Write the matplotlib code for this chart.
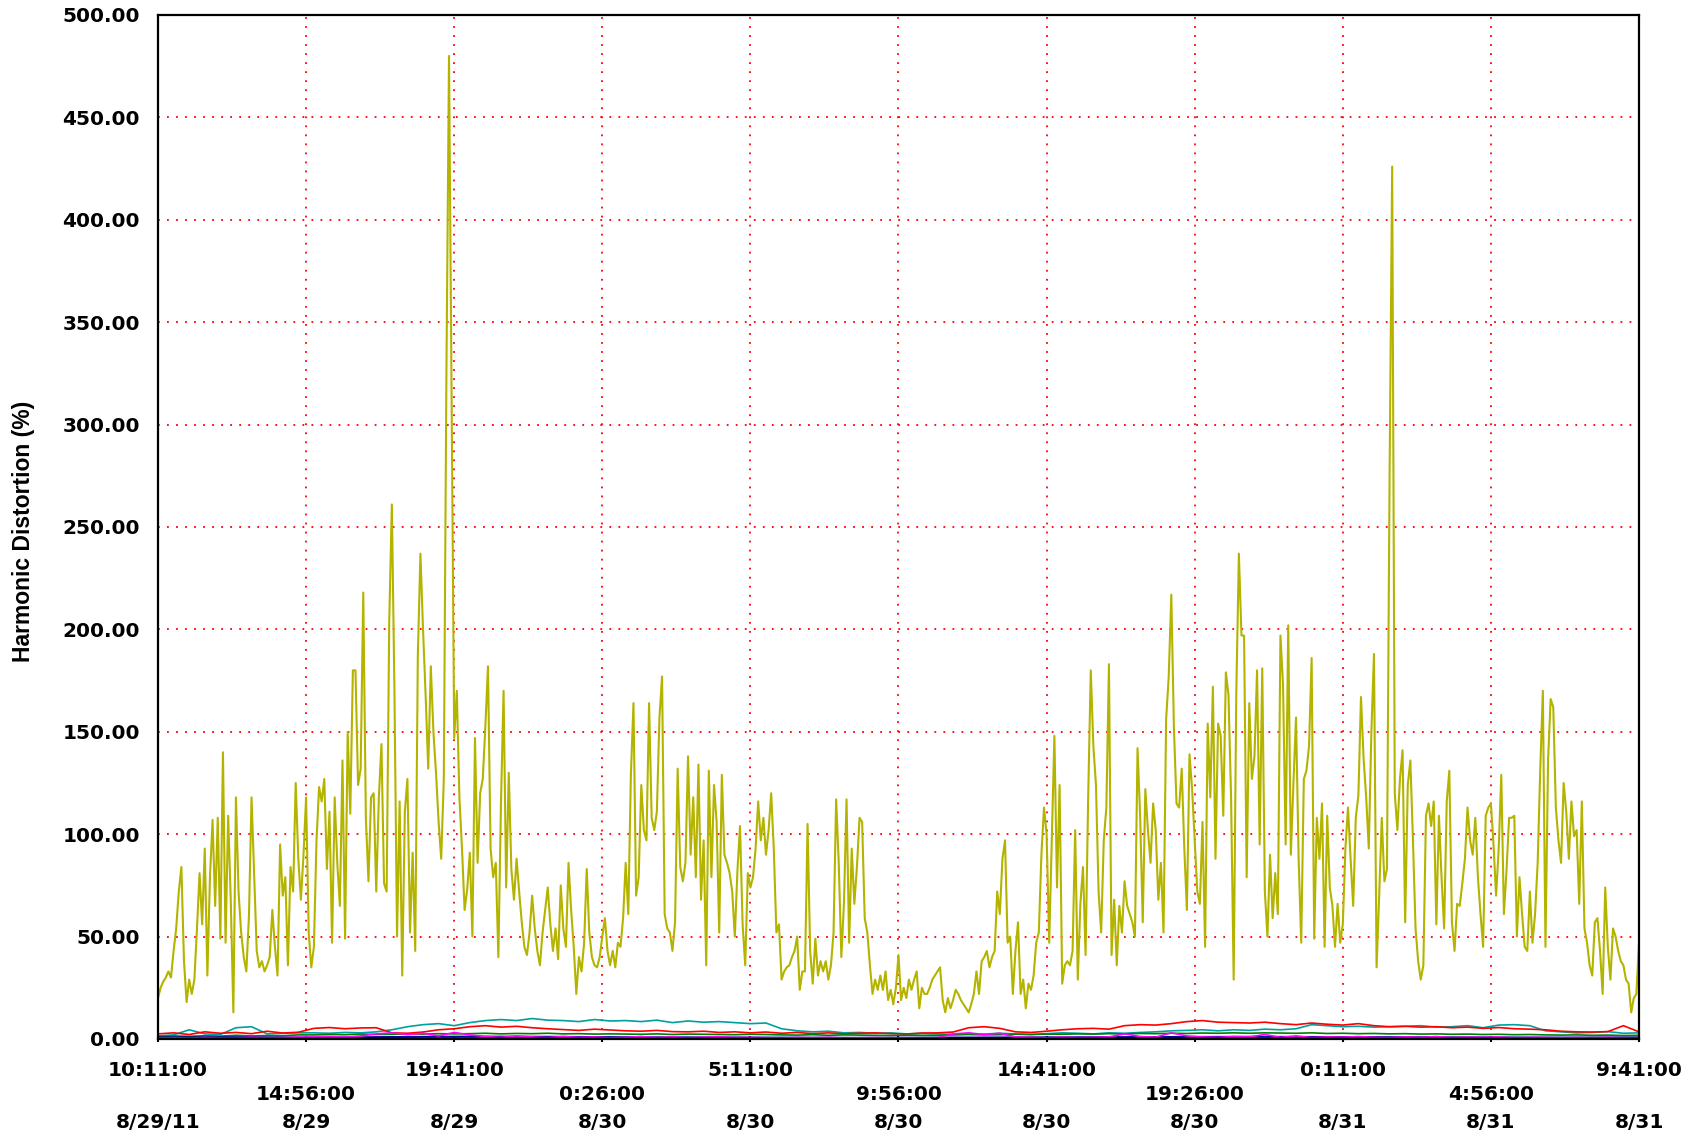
import numpy as np
import matplotlib
matplotlib.use("Agg")
import matplotlib.pyplot as plt

# minutes after 8/29/11 10:11:00, yellow channel sampled every 5 minutes
step_thd = 5
thd_seg1 = [20, 25, 28, 30, 33, 30, 43, 54, 72, 84,
            38, 18, 29, 22, 29, 54, 81, 56, 93, 31,
            79, 107, 65, 108, 49, 140, 47, 109, 68, 13,
            118, 72, 52, 40, 33, 60, 118, 81, 43, 35,
            38, 33, 36, 40, 63, 45, 31, 95, 70, 79,
            36, 84, 72, 125, 88, 68, 90, 118, 52, 35,
            45, 97, 123, 116, 127, 83, 111, 47, 118, 86,
            65, 136, 49, 150, 110, 180]
thd_seg2 = [180, 124, 132, 218, 108, 77, 118, 120, 72, 118,
            144, 76, 72, 204, 261, 170, 50, 116, 31, 111,
            127, 52, 91, 43, 187, 237, 200, 168, 132, 182,
            150, 130, 106, 88, 127, 324, 480, 312, 147, 170,
            118, 93, 63, 73, 91, 50, 147, 86, 120, 127,
            153, 182, 93, 79, 86, 40, 115, 170, 74, 130,
            83, 68, 88, 72, 57, 45, 41, 52, 70, 54,
            43, 36, 52, 63]
thd_seg3 = [74, 56, 43, 54, 39, 75, 54, 45, 86, 63,
            45, 22, 40, 33, 47, 83, 52, 40, 36, 35,
            40, 50, 59, 43, 36, 43, 35, 47, 45, 59,
            86, 61, 129, 164, 70, 79, 124, 102, 97, 164,
            108, 102, 111, 157, 177, 61, 54, 52, 43, 57,
            132, 84, 77, 86, 138, 90, 118, 79, 134, 68,
            97, 36, 131, 79, 124, 106, 52, 129, 90, 86,
            81, 72, 50]
thd_seg4 = [82, 104, 56, 36, 81, 74, 79, 93, 116, 97,
            108, 90, 102, 120, 93, 52, 56, 29, 33, 35,
            36, 40, 43, 50, 24, 33, 33, 105, 43, 27,
            49, 31, 38, 33, 38, 29, 36, 52, 117, 86,
            40, 66, 117, 47, 93, 66, 84, 108, 106, 59,
            52, 36, 22, 29, 24, 31, 24, 33, 19, 24,
            17, 25, 41, 19, 25, 20, 29, 24, 29, 33,
            15, 25, 22]
thd_seg5 = [22, 25, 29, 31, 33, 35, 19, 13, 20, 15,
            19, 24, 22, 19, 17, 15, 13, 17, 22, 33,
            22, 38, 40, 43, 35, 40, 43, 72, 61, 88,
            97, 47, 50, 22, 43, 57, 22, 29, 15, 27,
            24, 31, 47, 52, 90, 113, 100, 47, 97, 148,
            74, 124, 27, 36, 38, 36, 43, 102, 29, 66,
            84, 41, 118, 180, 143, 124, 72, 52, 97, 113,
            183, 41, 68]
thd_seg6 = [36, 65, 52, 77, 65, 61, 57, 50, 142, 109,
            57, 122, 102, 86, 115, 102, 68, 86, 52, 156,
            177, 217, 152, 115, 113, 132, 93, 63, 139, 122,
            97, 72, 66, 106, 45, 154, 118, 172, 88, 154,
            148, 109, 179, 168, 118, 29, 168, 237, 197, 197,
            79, 164, 127, 138, 180, 95, 181, 72, 50, 90,
            59, 81, 61, 197, 173, 95, 202, 90, 125, 157,
            88, 47, 127]
thd_seg7 = [131, 143, 186, 49, 108, 88, 115, 45, 109, 74,
            65, 45, 66, 47, 56, 93, 113, 88, 65, 108,
            119, 167, 137, 118, 93, 150, 188, 35, 70, 108,
            77, 83, 274, 426, 120, 102, 127, 141, 57, 124,
            136, 97, 54, 38, 29, 36, 109, 115, 104, 116,
            56, 109, 79, 54, 116, 131, 57, 43, 66, 65,
            76, 88, 113, 97, 90, 108, 79, 61, 45, 109,
            113, 115, 95]
thd_seg8 = [70, 93, 129, 61, 82, 108, 108, 109, 50, 79,
            61, 45, 43, 72, 47, 61, 86, 132, 170, 45,
            136, 166, 162, 113, 97, 86, 125, 111, 88, 116,
            99, 102, 66, 116, 54, 47, 36, 31, 57, 59,
            43, 22, 74, 45, 29, 54, 50, 43, 38, 36,
            29, 27, 13, 20, 22, 47]

# the low channels, sampled every 30 minutes
step_low = 30
red_vals = [2.5, 3.0, 2.2, 3.5, 2.8, 3.2, 2.6, 3.8, 2.9, 3.3,
            5.2, 5.6, 5.0, 5.4, 5.5, 3.0, 2.8, 3.4, 4.5, 5.0,
            6.0, 6.5, 5.8, 6.2, 5.5, 5.0, 4.6, 4.2, 4.8, 4.4,
            4.0, 3.8, 4.2, 3.6, 3.5, 3.8, 3.2, 3.5, 3.0, 3.4,
            2.8, 3.2, 2.6, 3.0, 2.5, 2.8, 3.0, 2.6, 2.4, 2.9,
            3.0, 3.4, 5.5, 6.0, 5.2, 3.5, 3.2, 3.8, 4.5, 5.0,
            5.2, 4.8, 6.5, 7.0, 6.8, 7.5, 8.5, 9.0, 8.2, 8.0,
            7.8, 8.2, 7.5, 7.0, 7.8, 7.2, 6.8, 7.5, 6.5, 6.0,
            6.2, 5.8, 6.0, 5.5, 5.8, 5.2, 5.6, 5.0, 4.8, 4.5,
            3.8, 3.5, 3.4, 3.6, 6.5, 3.5]
cyan_vals = [1.5, 2.0, 4.5, 2.5, 2.2, 5.5, 6.0, 2.5, 2.8, 3.0,
             3.0, 2.8, 3.2, 3.0, 3.5, 4.5, 6.0, 7.0, 7.5, 6.5,
             8.0, 9.0, 9.5, 9.0, 10.0, 9.2, 9.0, 8.5, 9.5, 8.8,
             9.0, 8.5, 9.2, 8.0, 8.8, 8.2, 8.5, 8.0, 7.5, 7.8,
             5.0, 4.0, 3.5, 3.8, 3.0, 3.2, 2.8, 3.0, 2.5, 2.8,
             2.5, 2.2, 2.6, 2.4, 2.8, 2.5, 2.2, 2.6, 3.0, 2.8,
             2.5, 3.0, 2.8, 3.2, 3.5, 4.0, 4.2, 4.5, 4.0, 4.5,
             4.2, 4.8, 4.5, 5.0, 7.0, 6.5, 6.0, 6.2, 5.8, 6.0,
             6.2, 6.5, 5.8, 6.0, 6.5, 5.5, 6.8, 7.0, 6.5, 4.0,
             3.5, 3.0, 3.2, 3.6, 2.8, 3.0]
green_vals = [1.2, 1.5, 1.3, 1.6, 1.4, 1.8, 1.5, 1.7, 1.6, 2.0,
              2.0, 2.2, 2.1, 2.4, 2.2, 2.3, 2.5, 2.4, 2.6, 2.5,
              2.6, 2.8, 2.5, 2.7, 2.6, 2.8, 2.5, 2.6, 2.4, 2.5,
              2.4, 2.3, 2.5, 2.2, 2.4, 2.3, 2.2, 2.1, 2.3, 2.2,
              2.0, 1.9, 2.1, 1.8, 2.0, 1.9, 1.8, 1.7, 1.9, 1.8,
              1.8, 2.0, 2.2, 2.0, 2.1, 2.3, 2.2, 2.4, 2.3, 2.5,
              2.4, 2.6, 2.5, 2.7, 2.6, 2.8, 2.7, 2.9, 2.8, 3.0,
              2.8, 3.0, 2.9, 2.8, 3.0, 2.7, 2.8, 2.6, 2.7, 2.5,
              2.6, 2.4, 2.5, 2.3, 2.4, 2.2, 2.3, 2.1, 2.2, 2.0,
              1.9, 2.0, 1.8, 1.9, 1.7, 1.8]
magenta_vals = [0.5, 0.6, 0.5, 0.7, 0.6, 0.5, 0.8, 0.6, 0.7, 0.9,
                1.0, 1.2, 0.9, 1.5, 2.5, 3.0, 2.2, 2.8, 1.5, 3.2,
                2.0, 1.2, 0.8, 1.5, 1.0, 0.7, 1.2, 0.8, 1.0, 0.6,
                0.8, 1.2, 0.7, 1.0, 0.6, 0.9, 1.1, 0.7, 0.8, 0.6,
                0.5, 0.7, 0.6, 0.8, 0.5, 0.6, 0.7, 0.5, 0.6, 0.5,
                0.6, 2.5, 3.0, 2.2, 2.8, 1.0, 0.8, 0.6, 0.9, 0.7,
                0.8, 1.0, 2.5, 1.2, 0.9, 3.0, 1.5, 1.0, 0.8, 1.2,
                1.0, 2.2, 0.8, 1.5, 0.7, 1.0, 0.9, 1.2, 0.8, 0.7,
                1.0, 0.8, 1.2, 0.7, 0.9, 0.8, 1.0, 0.6, 0.8, 0.7,
                0.6, 0.7, 0.5, 0.8, 0.6, 0.5]

# every 150 minutes
step_base = 150
blue_vals = [0.8, 0.9, 0.7, 1.0, 1.2, 1.1, 0.9, 0.8, 0.7, 0.6,
             0.7, 0.8, 0.9, 1.0, 1.1, 1.0, 0.9, 0.8, 0.7, 0.8]
black_vals = [0.2, 0.3, 0.2, 0.3, 0.4, 0.3, 0.2, 0.3, 0.2, 0.2,
              0.3, 0.2, 0.3, 0.4, 0.3, 0.3, 0.2, 0.3, 0.2, 0.3]

tick_step = 285
tick_times = ["10:11:00", "14:56:00", "19:41:00", "0:26:00", "5:11:00", "9:56:00",
              "14:41:00", "19:26:00", "0:11:00", "4:56:00", "9:41:00"]
tick_dates = ["8/29/11", "8/29", "8/29", "8/30", "8/30", "8/30",
              "8/30", "8/30", "8/31", "8/31", "8/31"]

thd = np.array(thd_seg1 + thd_seg2 + thd_seg3 + thd_seg4 +
               thd_seg5 + thd_seg6 + thd_seg7 + thd_seg8, dtype=float)
t_thd = np.arange(len(thd)) * step_thd
t_low = np.arange(len(red_vals)) * step_low
t_base = np.arange(len(blue_vals)) * step_base
t_end = tick_step * (len(tick_times) - 1)

fig = plt.figure(figsize=(16.96, 11.38), dpi=100)
ax = fig.add_axes([158 / 1696, 1 - 1039 / 1138, 1481 / 1696, 1024 / 1138])

ax.plot(t_thd, thd, color="#B4B400", lw=1.5, zorder=3)
ax.plot(t_low, cyan_vals, color="#00A0A0", lw=1.2, zorder=4)
ax.plot(t_low, red_vals, color="#FF0000", lw=1.2, zorder=5)
ax.plot(t_low, green_vals, color="#008000", lw=1.2, zorder=5)
ax.plot(t_base, blue_vals, color="#0000A0", lw=1.4, zorder=5)
ax.plot(t_low, magenta_vals, color="#FF00FF", lw=1.2, zorder=6)
ax.plot(t_base, black_vals, color="black", lw=1.2, zorder=6)

ax.set_xlim(0, t_end)
ax.set_ylim(0, 500)
ax.grid(True, color="red", linestyle=(0, (1, 4)), linewidth=1.3, zorder=1)

for s in ax.spines.values():
    s.set_linewidth(1.6)
    s.set_color("black")
    s.set_zorder(7)

yt = np.arange(0, 501, 50)
ax.set_yticks(yt)
ax.set_yticklabels([f"{v:.2f}" for v in yt])
ax.tick_params(axis="y", length=0, pad=13)
for lab in ax.get_yticklabels():
    lab.set_fontfamily("DejaVu Sans")
    lab.set_fontweight("bold")
    lab.set_fontsize(14.5)

xt = np.arange(len(tick_times)) * tick_step
ax.set_xticks(xt)
ax.set_xticklabels([])
ax.tick_params(axis="x", length=4, width=1.5, direction="inout", color="black")

trans = ax.get_xaxis_transform()
font = dict(family="DejaVu Sans", fontweight="bold", fontsize=14.5,
            ha="center", va="center", transform=trans, clip_on=False)
for i, (x, tm, dt) in enumerate(zip(xt, tick_times, tick_dates)):
    row = -32 / 1024 if i % 2 == 0 else -55 / 1024
    ax.text(x, row, tm, **font)
    ax.text(x, -84 / 1024, dt, **font)

fig.text(24 / 1696, 1 - 531 / 1138, "Harmonic Distortion (%)", rotation=90,
         ha="center", va="center", fontsize=16.5, fontweight="bold",
         family="Liberation Sans")

fig.savefig("out.png", dpi=100, facecolor="white")
